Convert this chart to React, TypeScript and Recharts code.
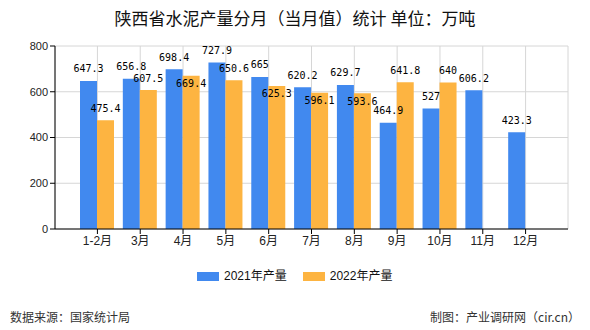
import React from 'react';
import { BarChart, Bar, XAxis, YAxis, CartesianGrid, LabelList } from 'recharts';

const categories = ['1-2月', '3月', '4月', '5月', '6月', '7月', '8月', '9月', '10月', '11月', '12月'];
const production2021 = [647.3, 656.8, 698.4, 727.9, 665, 620.2, 629.7, 464.9, 527, 606.2, 423.3];
const production2022 = [475.4, 607.5, 669.4, 650.6, 625.3, 596.1, 593.6, 641.8, 640, null, null];
const yTicks = [0, 200, 400, 600, 800];
const seriesNames = ['2021年产量', '2022年产量'];
const colors = ['#4189EF', '#FDB441'];
const title = '陕西省水泥产量分月（当月值）统计 单位：万吨';
const sourceText = '数据来源：国家统计局';
const creditText = '制图：产业调研网（cir.cn）';

const data = categories.map((month, i) => ({
  month,
  y2021: production2021[i],
  y2022: production2022[i],
}));

const CJK = "'Noto Sans CJK SC', sans-serif";
const TICK_FONT = "'Liberation Sans', 'Noto Sans CJK SC', sans-serif";
const LABEL_FONT = "'DejaVu Sans Mono', monospace";

function makeLabel(other: (number | null)[] | null) {
  return (props: any) => {
    const { x, y, width, height, value, index } = props;
    if (value == null) return null;
    const cx = Number(x) + Number(width) / 2;
    const top = Number(y);
    const pxPerUnit = Number(height) / Number(value);
    let cy = top - 12;
    if (other) {
      const o = other[index];
      if (o != null && o >= value && Math.abs(o - value) * pxPerUnit < 10) cy = top + 8;
    }
    return (
      <text x={cx} y={cy} textAnchor="middle" dominantBaseline="central" fontSize={10} fontFamily={LABEL_FONT} fill="#000">
        {value}
      </text>
    );
  };
}

export default function App() {
  return (
    <div style={{ position: 'absolute', left: 0, top: 0, width: 590, height: 330, background: '#fff', overflow: 'hidden' }}>
      <div style={{ position: 'absolute', left: 0, top: 6, width: 590, textAlign: 'center', fontFamily: CJK, fontSize: 17, color: '#111', lineHeight: '24px' }}>
        {title}
      </div>
      <BarChart width={590} height={330} data={data} margin={{ top: 46, right: 22, left: 0, bottom: 71 }} barGap={0} barSize={17}>
        <CartesianGrid stroke="#d6d6d6" />
        <XAxis
          dataKey="month"
          height={30}
          padding={{ left: 21, right: 21 }}
          axisLine={{ stroke: '#000' }}
          tickLine={{ stroke: '#000' }}
          tickSize={5}
          tick={{ fontSize: 12, fontFamily: TICK_FONT, fill: '#222' }}
          interval={0}
        />
        <YAxis
          width={55}
          domain={[0, 800]}
          ticks={yTicks}
          axisLine={{ stroke: '#000' }}
          tickLine={{ stroke: '#000' }}
          tickSize={5}
          tick={{ fontSize: 11, fontFamily: TICK_FONT, fill: '#222' }}
        />
        <YAxis
          yAxisId="edge"
          orientation="right"
          width={0}
          domain={[0, 800]}
          ticks={yTicks}
          tick={false}
          tickLine={false}
          axisLine={{ stroke: '#d6d6d6' }}
        />
        <Bar dataKey="y2021" name={seriesNames[0]} fill={colors[0]} isAnimationActive={false}>
          <LabelList dataKey="y2021" content={makeLabel(null)} />
        </Bar>
        <Bar dataKey="y2022" name={seriesNames[1]} fill={colors[1]} isAnimationActive={false}>
          <LabelList dataKey="y2022" content={makeLabel(production2021)} />
        </Bar>
      </BarChart>
      <div style={{ position: 'absolute', left: 197, top: 268, display: 'flex', alignItems: 'center', fontFamily: TICK_FONT, fontSize: 12, color: '#111' }}>
        {seriesNames.map((n, i) => (
          <div key={n} style={{ display: 'flex', alignItems: 'center', marginRight: i === 0 ? 16 : 0 }}>
            <span style={{ display: 'inline-block', width: 22, height: 9, background: colors[i], marginRight: 5 }} />
            <span style={{ lineHeight: '16px' }}>{n}</span>
          </div>
        ))}
      </div>
      <div style={{ position: 'absolute', left: 10, top: 309, fontFamily: CJK, fontSize: 12, color: '#333', lineHeight: '16px' }}>{sourceText}</div>
      <div style={{ position: 'absolute', right: 10, top: 309, fontFamily: CJK, fontSize: 12, color: '#333', lineHeight: '16px' }}>{creditText}</div>
    </div>
  );
}
